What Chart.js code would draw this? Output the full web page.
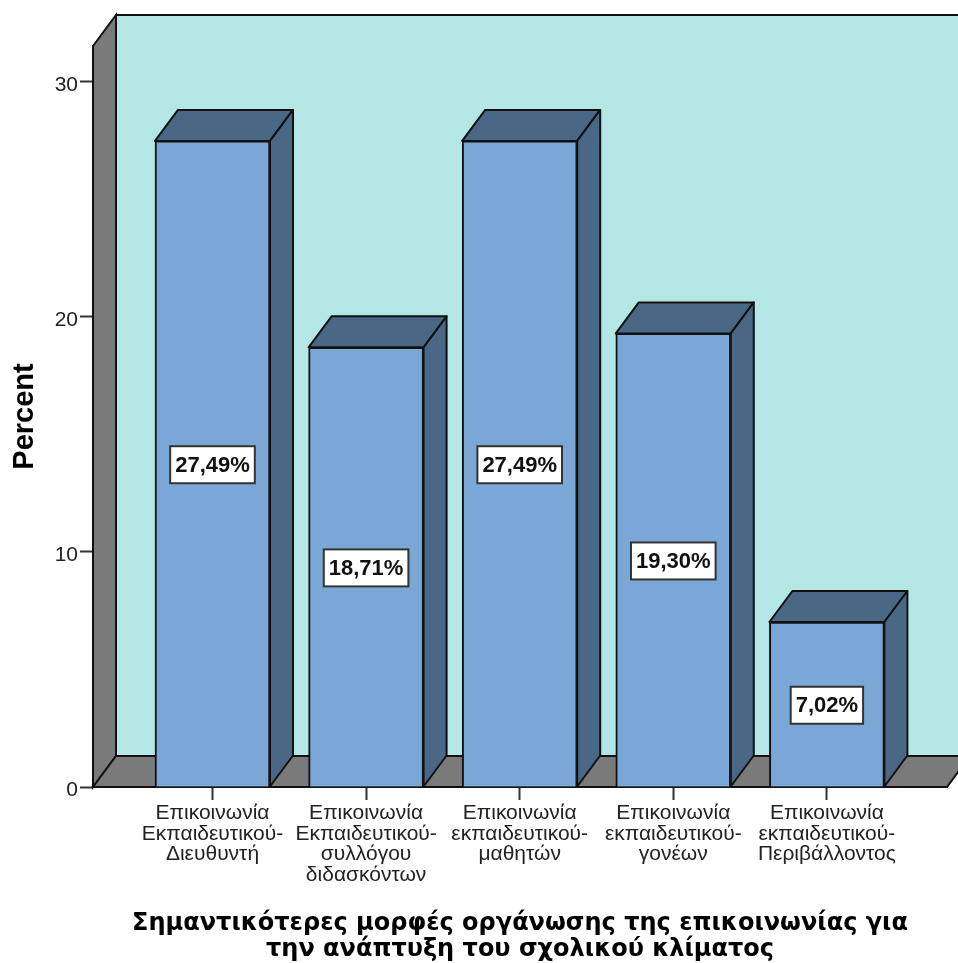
<!DOCTYPE html>
<html>
<head>
<meta charset="utf-8">
<title>Percent chart</title>
<script src="https://cdn.jsdelivr.net/npm/chart.js@4"></script>
<style>
  html, body { margin: 0; padding: 0; background: #fff; }
  #wrap { width: 958px; height: 963px; }
</style>
</head>
<body>
<div id="wrap"><canvas id="barChart" width="958" height="963"></canvas></div>
<script>
const categories = [
  ['Επικοινωνία', 'Εκπαιδευτικού-', 'Διευθυντή'],
  ['Επικοινωνία', 'Εκπαιδευτικού-', 'συλλόγου', 'διδασκόντων'],
  ['Επικοινωνία', 'εκπαιδευτικού-', 'μαθητών'],
  ['Επικοινωνία', 'εκπαιδευτικού-', 'γονέων'],
  ['Επικοινωνία', 'εκπαιδευτικού-', 'Περιβάλλοντος']
];
const percents = [27.49, 18.71, 27.49, 19.30, 7.02];
const yTicks = [0, 10, 20, 30];
const xTitle = [
  'Σημαντικότερες μορφές οργάνωσης της επικοινωνίας για',
  'την ανάπτυξη του σχολικού κλίματος'
];

// depth of the fake 3D box
const DEPTH_X = 23;
const DEPTH_Y = 31;
const LINE = '#111';

function face(ctx, pts, fill) {
  ctx.beginPath();
  pts.forEach((p, i) => i ? ctx.lineTo(p[0], p[1]) : ctx.moveTo(p[0], p[1]));
  ctx.closePath();
  ctx.fillStyle = fill;
  ctx.fill();
  ctx.stroke();
}

const box3d = {
  id: 'box3d',
  // back wall, left wall and floor
  beforeDraw(chart) {
    const { ctx, chartArea: a } = chart;
    ctx.save();
    ctx.lineWidth = 2;
    ctx.strokeStyle = LINE;
    const l = a.left, r = a.right, t = a.top, b = a.bottom;
    face(ctx, [[l + DEPTH_X, t - DEPTH_Y], [r + DEPTH_X, t - DEPTH_Y], [r + DEPTH_X, b - DEPTH_Y], [l + DEPTH_X, b - DEPTH_Y]], '#b5e6e6');
    face(ctx, [[l, t], [l + DEPTH_X, t - DEPTH_Y], [l + DEPTH_X, b - DEPTH_Y], [l, b]], '#7a7a7a');
    face(ctx, [[l, b], [l + DEPTH_X, b - DEPTH_Y], [r + DEPTH_X, b - DEPTH_Y], [r, b]], '#7a7a7a');
    ctx.restore();
  },
  // top and side of each bar, behind the front face
  beforeDatasetsDraw(chart) {
    const { ctx } = chart;
    ctx.save();
    ctx.lineWidth = 2;
    ctx.strokeStyle = LINE;
    ctx.lineJoin = 'round';
    chart.getDatasetMeta(0).data.forEach(bar => {
      const x0 = bar.x - bar.width / 2, x1 = bar.x + bar.width / 2;
      const top = bar.y, base = bar.base;
      face(ctx, [[x0, top], [x0 + DEPTH_X, top - DEPTH_Y], [x1 + DEPTH_X, top - DEPTH_Y], [x1, top]], '#4a6885');
      face(ctx, [[x1, top], [x1 + DEPTH_X, top - DEPTH_Y], [x1 + DEPTH_X, base - DEPTH_Y], [x1, base]], '#4a6885');
    });
    ctx.restore();
  },
  // white value boxes in the middle of the bars
  afterDatasetsDraw(chart) {
    const { ctx } = chart;
    ctx.save();
    ctx.font = 'bold 22px "Liberation Sans", Arial, sans-serif';
    ctx.textAlign = 'center';
    ctx.textBaseline = 'middle';
    chart.getDatasetMeta(0).data.forEach((bar, i) => {
      const text = percents[i].toFixed(2).replace('.', ',') + '%';
      const w = ctx.measureText(text).width + 10;
      const h = 37;
      const cy = (bar.y + bar.base) / 2 + 1;
      ctx.fillStyle = '#fff';
      ctx.strokeStyle = '#333';
      ctx.lineWidth = 2;
      ctx.fillRect(bar.x - w / 2, cy - h / 2, w, h);
      ctx.strokeRect(bar.x - w / 2, cy - h / 2, w, h);
      ctx.fillStyle = '#111';
      ctx.fillText(text, bar.x, cy + 1);
    });
    ctx.restore();
  }
};

new Chart(document.getElementById('barChart'), {
  type: 'bar',
  data: {
    datasets: [{
      data: percents.map((v, i) => ({ x: i, y: v })),
      backgroundColor: '#7ba7d6',
      borderColor: LINE,
      borderWidth: 2,
      barThickness: 115
    }]
  },
  plugins: [box3d],
  options: {
    responsive: false,
    animation: false,
    layout: { padding: { top: 46, right: 11, bottom: 0, left: 0 } },
    plugins: { legend: { display: false }, tooltip: { enabled: false } },
    scales: {
      x: {
        type: 'linear',
        min: -0.778,
        max: 4.782,
        offset: false,
        afterBuildTicks: scale => { scale.ticks = categories.map((c, i) => ({ value: i })); },
        afterFit: scale => { scale.height = 176; },
        grid: { offset: false, drawOnChartArea: false, tickLength: 13, tickColor: '#333', tickWidth: 2 },
        border: { color: LINE, width: 2 },
        ticks: {
          autoSkip: false,
          maxRotation: 0,
          padding: 3,
          color: '#222',
          font: { family: '"Liberation Sans", Arial, sans-serif', size: 21, lineHeight: 0.98 },
          callback: v => categories[v]
        },
        title: {
          display: true,
          text: xTitle,
          color: '#000',
          padding: { top: 0, bottom: 0 },
          font: { family: '"DejaVu Sans", sans-serif', size: 24, weight: 'bold', lineHeight: 1.08 }
        }
      },
      y: {
        min: 0,
        max: 31.53,
        afterBuildTicks: scale => { scale.ticks = yTicks.map(v => ({ value: v })); },
        afterFit: scale => { scale.width = 93; },
        grid: { drawOnChartArea: false, tickLength: 13, tickColor: '#333', tickWidth: 2 },
        border: { color: LINE, width: 2 },
        ticks: {
          padding: 2,
          labelOffset: 3,
          color: '#222',
          font: { family: '"Liberation Sans", Arial, sans-serif', size: 21 }
        },
        title: {
          display: true,
          text: 'Percent',
          color: '#000',
          padding: { top: 8, bottom: 0 },
          font: { family: '"Liberation Sans", Arial, sans-serif', size: 29, weight: 'bold' }
        }
      }
    }
  }
});
</script>
</body>
</html>
